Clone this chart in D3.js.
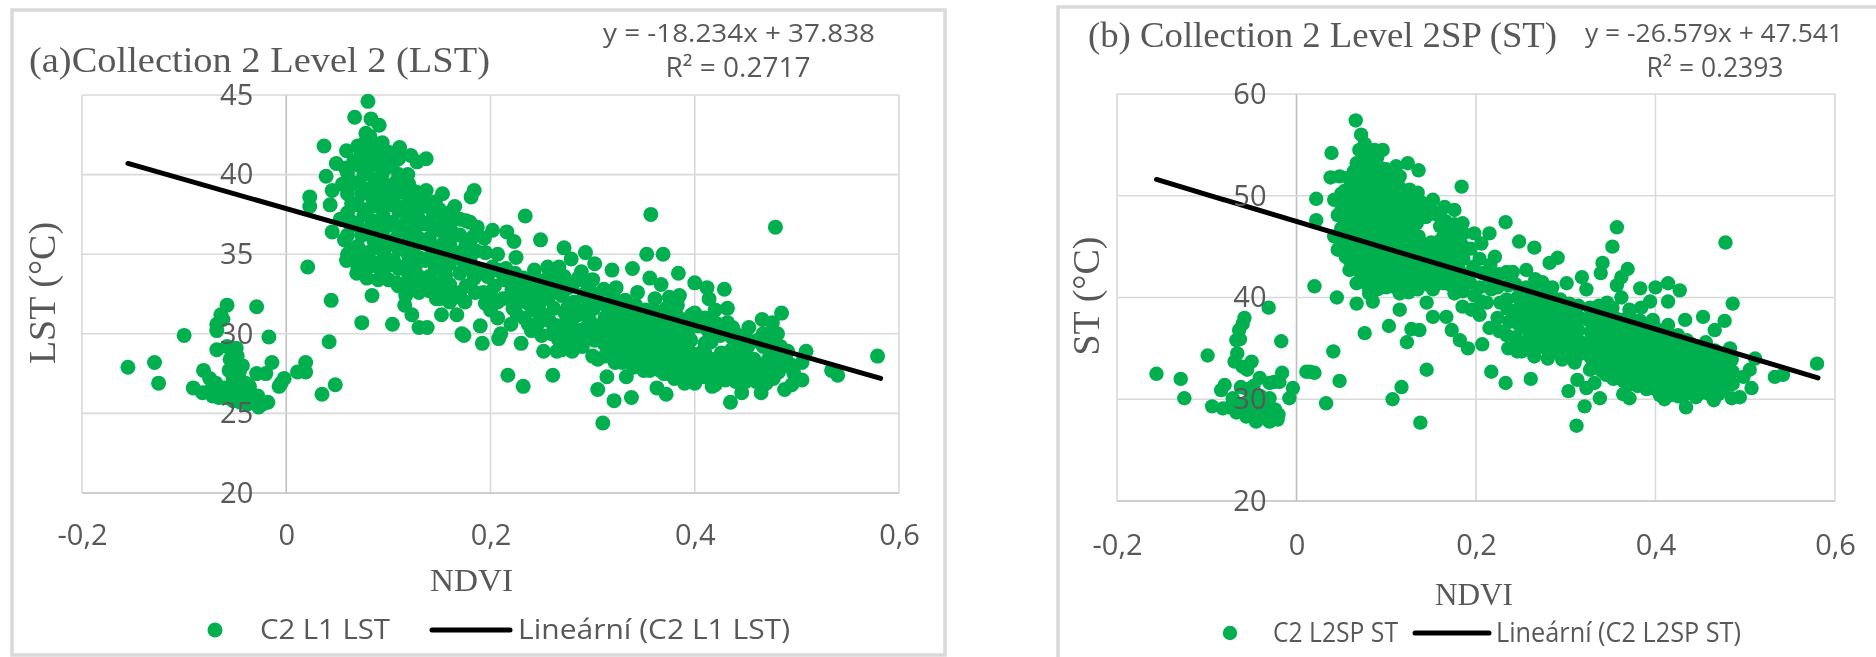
<!DOCTYPE html>
<html>
<head>
<meta charset="utf-8">
<script src="https://cdn.jsdelivr.net/npm/d3@7/dist/d3.min.js"></script>
<style>
  html, body { margin: 0; padding: 0; background: #fff; }
  svg { display: block; }
</style>
</head>
<body>
<script>
// tick values
var xTicks = [-0.2, 0, 0.2, 0.4, 0.6];
var yTicksA = [20, 25, 30, 35, 40, 45];
var yTicksB = [20, 30, 40, 50, 60];

// trend line ends
var trendA = [[-0.155, 40.7], [0.582, 27.2]];
var trendB = [[-0.156, 51.6], [0.581, 32.1]];

// panel a, [NDVI, LST]
var lowA = [[-.155,27.9],[-.129,28.2],[-.125,26.9],[-.1,29.9],[-.068,30.2],[-.017,29.8],[-.014,28.2],[-.049,29.1],[-.068,29],[-.058,29.2],[.019,28.2],[.011,27.6],[.019,27.6],[-.002,27.2],[-.007,26.7],[-.005,26.9],[.048,26.8],[.035,26.2],[.042,29.5],[-.029,31.7],[-.058,31.8],[-.064,31.2],[-.068,30.6],[-.062,30.9],[-.081,27.7],[-.075,27.2],[-.069,26.9],[-.091,26.6],[-.082,26.3],[-.066,26],[-.043,28],[-.056,27.7],[-.05,27.9],[-.029,27.5],[-.02,27.5],[-.023,25.6],[-.027,25.4],[-.018,25.7],[-.058,26],[-.052,25.8],[-.045,25.7],[-.038,25.6],[-.032,25.8],[-.06,26.6],[-.053,26.5],[-.046,26.4],[-.04,26.2],[-.034,26.2],[-.028,26.1],[-.052,27.2],[-.045,27.1],[-.04,26.9],[-.036,26.7],[-.055,28.4],[-.048,28.6],[-.046,27.6],[-.075,26.4],[-.072,26.1]];
var blobA = [[.08,44.6],[.067,43.6],[.083,43.5],[.091,43.1],[.037,41.8],[.137,41],[.128,40.8],[.059,41.5],[.049,40.7],[.039,39.9],[.045,39],[.023,38.6],[.023,38],[.043,38.1],[.045,36.4],[.021,34.2],[.059,34.6],[.057,35.9],[.069,33.8],[.079,33.5],[.108,33.2],[.044,32.1],[.084,32.4],[.074,30.7],[.104,30.6],[.117,32.4],[.116,31.8],[.123,31.2],[.13,30.4],[.138,30.4],[.147,32.2],[.152,31.2],[.167,31.2],[.172,30],[.181,38.6],[.184,39],[.078,42.6],[.094,42],[.111,41.7],[.122,41.2],[.119,40],[.137,39],[.153,38.8],[.165,38],[.176,37.1],[.187,36.7],
[.053,37.2],[.055,39.4],[.058,40.4],[.063,35.3],[.065,37],[.064,38.2],[.066,39.5],[.066,40.8],[.073,34.8],[.074,36.2],[.076,37.5],[.074,38.8],[.076,40],[.073,41.2],[.077,42],[.085,34.5],[.086,35.8],[.084,37.1],[.085,38.4],[.087,39.7],[.084,41],[.087,41.9],[.095,33.7],[.096,35],[.094,36.3],[.095,37.4],[.097,38.7],[.094,40],[.096,41.1],[.105,34.6],[.106,35.9],[.104,37],[.105,38.3],[.107,39.5],[.104,40.6],[.115,34.2],[.116,35.4],[.114,36.8],[.116,38],[.114,39.1],[.125,33],[.126,34.1],[.124,35.4],[.126,36.6],[.124,37.7],[.127,38.9],[.135,33.4],[.136,34.6],[.134,35.8],[.136,36.9],[.134,38],[.145,33],[.146,34.1],[.144,35.3],[.146,36.5],[.144,37.6],[.146,38.3],[.155,32.6],[.156,33.7],[.154,34.9],[.156,36],[.154,37.1],[.165,32.3],[.166,35],[.164,36.3],[.175,32],[.176,33],[.174,34.5],[.176,35.6],[.185,32.6],[.184,33.5],[.186,35.2],[.183,36.1]];
var blobFillA = [[.06,35],[.06,36.2],[.06,37.6],[.06,38.8],[.06,40.1],[.07,34.2],[.07,35.5],[.07,36.8],[.07,38.1],[.07,39.4],[.07,40.6],[.07,41.8],[.08,34.2],[.08,35.1],[.08,36.5],[.08,37.8],[.08,39.1],[.08,40.4],[.08,41.6],[.082,42.4],[.09,33.4],[.09,34.2],[.09,35.4],[.09,36.7],[.09,38],[.09,39.2],[.09,40.6],[.09,41.6],[.1,33.4],[.1,34.3],[.1,35.6],[.1,36.8],[.1,38.1],[.1,39.3],[.1,40.5],[.1,41.4],[.11,33],[.11,34.1],[.11,35.3],[.11,36.5],[.11,37.7],[.11,38.9],[.11,40],[.11,41],[.12,32.8],[.12,33.6],[.12,34.8],[.12,36.1],[.12,37.2],[.12,38.4],[.12,39.4],[.13,32.6],[.13,33.6],[.13,34.8],[.13,36],[.13,37.2],[.13,38.4],[.14,32.7],[.14,33.6],[.14,34.8],[.14,36],[.14,37],[.14,38.2],[.15,32.2],[.15,33.2],[.15,34.4],[.15,35.5],[.15,36.6],[.15,37.8],[.16,32],[.16,33.1],[.16,34.4],[.16,35.6],[.16,36.8],[.16,37.6],[.17,32.6],[.17,33.8],[.17,35.1],[.17,36.2],[.17,37.2],[.18,33],[.18,34.7],[.18,35.8],[.18,37]];
var bandA = [[.19,30.5],[.192,29.4],[.174,29.9],[.208,29.7],[.193,32.6],[.194,34],[.195,35.1],[.202,36.5],[.216,36.4],[.223,35.8],[.194,36],[.207,35],[.225,34.8],[.182,34],[.243,34],[.256,34.2],[.267,34.2],[.289,33.9],[.2,31.5],[.204,33],[.202,34.2],[.21,30],[.212,32.2],[.213,33.4],[.215,34.1],[.22,30.6],[.222,31.6],[.221,32.8],[.224,33.8],[.23,29.4],[.233,31],[.231,32.3],[.232,33.5],[.24,30.2],[.242,31.5],[.241,32.5],[.243,33.1],[.252,28.9],[.25,29.9],[.251,31.2],[.253,32.2],[.25,33.3],[.265,28.9],[.26,30],[.262,31.6],[.261,32.9],[.28,28.9],[.27,29],[.271,30.3],[.273,31.3],[.27,32.4],[.272,33.6],[.272,35.4],[.283,30.3],[.28,31],[.282,32],[.28,33],[.279,34.7],[.29,29.2],[.292,30.3],[.29,31.4],[.292,32.5],[.29,33.4],[.293,35.1],[.302,34.4],[.3,28.6],[.302,29.6],[.3,30.6],[.301,31.6],[.303,32.5],[.3,33.4],[.234,37.4],[.249,35.9],[.217,27.4],[.232,26.7],[.261,27.4],
[.195,31.9],[.2,32.6],[.197,33.6],[.207,31],[.207,32],[.207,34],[.218,32.3],[.218,33.3],[.226,31.2],[.228,32],[.228,33.1],[.237,30.6],[.237,31.9],[.237,33],[.247,30.7],[.247,31.7],[.248,32.9],[.258,30.8],[.257,32.3],[.257,33.6],[.266,30.5],[.266,29.7],[.267,33.4],[.277,29.6],[.277,30.7],[.276,32.9],[.276,31.7],[.286,29.7],[.286,31.2],[.286,33.5],[.296,31],[.296,32],[.296,33],[.296,29.9]];
var massA = [[.31,24.4],[.305,26.5],[.314,27.3],[.333,27.3],[.321,25.8],[.338,26],[.305,28.4],[.312,28.6],[.311,29.4],[.309,30.2],[.312,31],[.31,31.9],[.311,32.8],[.319,34],[.322,28.2],[.32,29],[.323,29.9],[.32,30.7],[.322,31.6],[.32,32.5],[.323,32.9],[.329,28.2],[.332,28.9],[.33,29.7],[.333,30.5],[.33,31.3],[.332,32.1],[.339,34.1],[.34,27.9],[.342,28.6],[.34,29.4],[.343,30.2],[.34,31],[.342,31.8],[.344,32.6],[.35,27.7],[.352,28.4],[.35,29.2],[.353,30],[.35,30.8],[.352,31.5],[.353,35],[.357,37.5],[.369,35],[.356,33.5],[.367,33.1],[.356,27.7],[.363,26.6],[.372,26.2],[.362,28.2],[.36,29],[.363,29.8],[.36,30.6],[.362,31.4],[.361,32.2],[.37,27.5],[.372,28.4],[.37,29.2],[.373,30],[.37,30.8],[.372,31.6],[.375,32.3],[.384,33.8],[.385,32.4],[.383,31.8],[.38,27.2],[.382,28],[.38,28.8],[.383,29.6],[.38,30.4],[.382,31.2],[.39,26.9],[.393,27.6],[.39,28.5],[.393,29.3],[.39,30.1],[.392,30.9],[.397,31.2],[.4,33.2],[.412,32.9],[.414,32.2],[.4,26.9],[.403,27.7],[.4,28.4],[.41,29.4],[.403,30.5],[.4,31.3],[.417,26.7],[.41,27.3],[.413,28.1],[.41,28.8],[.413,30.2],[.41,31],[.42,26.8],[.423,27.6],[.42,28.3],[.425,29.9],[.42,30.7],[.42,31.5],[.429,32.8],[.432,31.6],[.432,30.7],[.435,25.7],[.43,27.1],[.433,27.9],[.43,28.6],[.436,29.8],[.437,30.4],[.446,26.3],[.44,27],[.443,27.8],[.44,28.4],[.443,29.2],[.44,30],[.453,30.4],[.45,27],[.453,27.7],[.45,28.3],[.452,29.2],[.449,29.9],[.465,26.3],[.46,27],[.463,27.7],[.458,28.4],[.462,29.6],[.466,30.9],[.476,30.7],[.485,31.3],[.47,26.9],[.473,27.7],[.472,28.4],[.474,29.2],[.472,29.9],[.488,26.5],[.482,27.6],[.48,28.4],[.484,29.2],[.481,30],[.495,26.8],[.493,28.1],[.491,28.9],[.505,27.1],[.505,28.2],[.509,28.9],[.534,27.7],[.54,27.4],[.579,28.6],[.479,36.7]];
var massFillA = [[.316,28.8],[.316,29.7],[.316,30.6],[.316,31.4],[.326,28.6],[.326,29.4],[.326,30.2],[.326,31],[.326,31.8],[.336,28.3],[.336,29.1],[.336,29.9],[.336,30.7],[.336,31.5],[.346,28.1],[.346,28.9],[.346,29.7],[.346,30.5],[.346,31.3],[.356,27.9],[.356,28.7],[.356,29.5],[.356,30.3],[.356,31.1],[.366,27.7],[.366,28.5],[.366,29.3],[.366,30.2],[.366,31],[.376,27.5],[.376,28.3],[.376,29.1],[.376,29.9],[.376,30.7],[.386,27.4],[.386,28.2],[.386,29],[.386,29.8],[.386,30.6],[.396,27.2],[.396,28],[.396,28.8],[.396,29.6],[.396,30.4],[.406,27.3],[.406,28],[.406,28.8],[.406,31],[.416,27.5],[.416,28.4],[.416,29.5],[.416,30.5],[.426,27.2],[.426,28],[.426,28.8],[.426,30.4],[.436,27.4],[.436,28.2],[.436,29],[.446,26.9],[.446,27.5],[.446,28.1],[.446,28.8],[.446,29.6],[.456,27.3],[.456,28],[.456,29.5],[.466,27.3],[.467,28],[.467,29.2],[.467,30],[.477,27.2],[.477,28],[.477,29.6],[.487,28],[.488,28.7],[.497,27.5]];

// panel b, [NDVI, ST]
var lowB = [[-.156,32.5],[-.129,32],[-.125,30.1],[-.099,34.3],[-.017,35.7],[.041,34.7],[.048,31.8],[.033,29.6],[.011,32.7],[.02,32.6],[.015,32.7],[-.004,31.1],[-.008,30.1],[-.016,32.6],[-.031,39],[-.058,38],[-.064,36.8],[-.06,37.4],[-.067,35.8],[-.063,35.9],[-.066,34.5],[-.069,33.7],[-.05,33.7],[-.055,32.9],[-.06,33.2],[-.041,32.1],[-.03,31.6],[-.019,31.7],[-.025,31.7],[-.08,31.4],[-.084,30.9],[-.094,29.3],[-.082,29.1],[-.071,30.1],[-.067,28.7],[-.056,28.3],[-.045,27.8],[-.03,27.8],[-.021,28],[-.02,28.5],[-.03,29],[-.041,29.1],[-.05,30],[-.055,31],[-.062,31.2],[-.048,31.3],[-.04,30.3],[-.03,30.1],[-.058,29.5],[-.064,29.5],[-.075,29.2],[-.05,29],[-.037,28.2],[-.024,29]];
var blobB = [[.066,57.4],[.072,56],[.039,54.2],[.038,51.8],[.022,49.7],[.022,47.6],[.02,41.1],[.045,40],[.067,39.4],[.085,39.6],[.103,37.2],[.076,36.5],[.115,38.8],[.124,53.2],[.136,52.5],[.184,50.9],[.096,54.5],[.111,52.9],[.115,51.9],[.135,50.3],[.152,49.6],[.176,48.6],[.185,47.3],[.067,53.2],[.048,51.9],[.042,49.6],[.046,48.1],[.042,46],[.046,44.7],[.059,42.7],[.067,41.4],[.081,40.4],[.115,40.4],[.152,40.8],[.163,41.4],[.145,39.5],[.152,38.1],[.167,38.1],[.173,36.8],[.185,39.1],[.176,40.4],[.123,35.6],[.137,36.8],[.128,36.9],[.107,30],[.117,31.2],[.145,32.9],[.138,27.7],
[.055,44],[.053,45.3],[.056,46.6],[.054,47.9],[.057,49.2],[.054,50.5],[.058,51.8],[.065,43.3],[.063,44.6],[.066,45.9],[.064,47.2],[.066,48.5],[.063,49.8],[.066,51.1],[.064,52.4],[.075,42.2],[.073,43.6],[.076,44.9],[.074,46.2],[.076,47.5],[.073,48.8],[.076,50.1],[.074,51.4],[.076,52.7],[.074,54],[.076,55.1],[.085,41.7],[.084,43],[.086,44.3],[.084,45.6],[.086,46.9],[.083,48.2],[.086,49.5],[.084,50.8],[.086,52.1],[.084,53.4],[.087,54.5],[.095,41],[.093,42.3],[.096,43.6],[.094,44.9],[.096,46.2],[.093,47.5],[.096,48.8],[.094,50.1],[.096,51.4],[.094,52.7],[.105,41.6],[.103,42.9],[.106,44.2],[.104,45.5],[.106,46.8],[.103,48.1],[.106,49.4],[.104,50.7],[.106,52],[.115,41.8],[.113,43.1],[.116,44.4],[.114,45.7],[.116,47],[.113,48.3],[.116,49.6],[.114,50.9],[.125,40.5],[.124,41.7],[.126,43],[.124,44.3],[.126,45.6],[.124,46.9],[.126,48.2],[.124,49.5],[.126,50.6],[.135,40.8],[.133,42.1],[.136,43.4],[.134,44.7],[.136,46],[.134,47.3],[.136,48.6],[.134,49.8],[.145,41.3],[.143,42.3],[.146,43.6],[.144,44.9],[.144,47.9],[.146,49],[.155,42.5],[.154,43.8],[.156,45],[.155,48.2],[.165,42.5],[.164,43.8],[.166,45.1],[.164,46.1],[.166,47.5],[.165,48.9],[.175,42],[.174,43.3],[.176,44.6],[.174,46],[.176,47.2],[.185,40.6],[.184,42.4],[.186,43.8],[.184,45.2],[.186,46.3]];
var blobFillB = [[.05,45.5],[.05,46.8],[.05,48.6],[.05,50.2],[.06,43.6],[.06,45],[.06,46.3],[.06,47.6],[.06,48.9],[.06,50.2],[.06,51.5],[.07,42.6],[.07,44],[.07,45.3],[.07,46.6],[.07,47.9],[.07,49.2],[.07,50.5],[.07,51.8],[.07,53],[.07,54.5],[.08,41.1],[.08,42.6],[.08,44],[.08,45.3],[.08,46.6],[.08,47.9],[.08,49.2],[.08,50.5],[.08,51.8],[.08,53],[.08,54.3],[.09,40.8],[.09,42.2],[.09,43.5],[.09,44.8],[.09,46.1],[.09,47.4],[.09,48.7],[.09,50],[.09,51.3],[.09,52.6],[.09,53.8],[.1,41],[.1,42.2],[.1,43.5],[.1,44.8],[.1,46.1],[.1,47.4],[.1,48.7],[.1,50],[.1,51.3],[.1,52.6],[.11,41],[.11,42.3],[.11,43.6],[.11,44.9],[.11,46.2],[.11,47.5],[.11,48.8],[.11,50.1],[.11,51.3],[.12,41],[.12,42.3],[.12,43.6],[.12,44.9],[.12,46.2],[.12,47.5],[.12,48.8],[.12,50.1],[.13,41.2],[.13,42.5],[.13,43.8],[.13,45.1],[.13,46.4],[.13,47.7],[.13,49],[.13,50.2],[.14,41.4],[.14,42.7],[.14,44],[.14,45.3],[.14,48.2],[.14,49.3],[.15,41.5],[.15,42.9],[.15,44.2],[.15,45.4],[.15,48.6],[.16,42],[.16,43.2],[.16,44.4],[.16,45.6],[.16,47],[.16,48.3],[.17,41.3],[.17,42.7],[.17,44],[.17,45.3],[.17,46.6],[.18,41.5],[.18,43],[.18,44.4],[.18,45.8],[.18,47]];
var bandB = [[.195,38.8],[.198,40.2],[.193,41.5],[.197,43],[.194,44.8],[.198,46.3],[.215,46.3],[.204,38.3],[.206,39.6],[.204,41],[.207,42.4],[.204,43.8],[.206,45.3],[.212,39.5],[.215,37],[.217,40.8],[.214,42],[.216,43.2],[.221,44],[.207,35.4],[.191,35],[.182,35.8],[.226,36.7],[.224,38],[.227,39.5],[.224,41],[.226,42.3],[.234,39.8],[.233,47.4],[.217,32.7],[.233,31.6],[.261,32],[.236,35],[.234,36.3],[.237,37.6],[.235,38.9],[.236,41.2],[.234,42.5],[.248,45.5],[.246,34.7],[.244,36.1],[.247,37.4],[.245,38.7],[.246,40],[.244,41.3],[.241,42.5],[.251,34.7],[.256,35.7],[.254,37],[.256,38.3],[.254,39.6],[.256,41],[.256,42.7],[.265,44.9],[.265,34.2],[.263,35.3],[.266,36.6],[.264,37.9],[.266,39.2],[.264,40.5],[.266,41.8],[.28,34],[.276,35.1],[.274,36.4],[.276,37.7],[.274,39],[.277,40.3],[.274,41.5],[.291,43.9],[.282,43.4],[.285,41],[.286,35.1],[.284,36.3],[.286,37.5],[.284,38.7],[.286,40],[.296,33.9],[.294,35],[.297,36.2],[.295,37.4],[.296,38.6],[.294,39.8],[.301,41.4],[.31,33.6],[.304,34.7],[.306,35.9],[.304,37],[.306,38.2],[.304,39.4],[.303,30.8],[.312,27.4],[.313,31.9],[.318,42],[.323,40.8],[.323,31.1],[.321,29.3],[.315,34.4],[.317,35.6],[.314,36.8],[.316,38],[.314,39.2],
[.25,35.5],[.26,36],[.26,37.3],[.26,38.6],[.26,39.9],[.27,35.7],[.27,37],[.27,38.3],[.27,39.6],[.28,35.7],[.28,37],[.28,38.2],[.28,39.4],[.29,34.6],[.29,35.7],[.29,36.9],[.29,38.1],[.29,39.3],[.3,34.3],[.3,35.4],[.3,36.6],[.3,37.8],[.3,39],[.31,35],[.31,36.2],[.31,37.4],[.31,38.6]];
var massB = [[.327,32.9],[.332,31.6],[.338,30.1],[.327,34.2],[.325,35.4],[.328,36.6],[.325,37.8],[.327,39],[.341,43.4],[.339,42.4],[.335,33.2],[.337,34.4],[.335,35.6],[.337,36.8],[.335,38],[.337,39.2],[.346,39.5],[.345,32.4],[.343,33.6],[.346,34.8],[.344,36],[.346,37.2],[.344,38.4],[.353,32],[.355,33.2],[.352,34.4],[.355,35.6],[.353,36.8],[.355,38],[.352,39],[.357,46.9],[.352,45],[.369,42.8],[.362,42],[.357,41.2],[.362,40],[.371,38.8],[.364,30.5],[.371,30.1],[.364,31.8],[.362,33],[.365,34.2],[.363,35.4],[.365,36.6],[.363,37.8],[.373,31.9],[.375,33],[.372,34.2],[.375,35.4],[.373,36.6],[.375,37.8],[.383,40.9],[.394,39.6],[.385,31.7],[.383,32.9],[.385,34.1],[.383,35.3],[.385,36.5],[.383,37.7],[.384,39],[.395,31.4],[.393,32.6],[.396,33.8],[.394,35],[.396,36.2],[.394,37.4],[.397,37.8],[.4,41],[.414,41.4],[.414,39.6],[.427,40.7],[.405,30.4],[.404,31.6],[.406,32.9],[.404,34.1],[.406,35.3],[.404,36.5],[.416,30.4],[.414,31.5],[.417,32.8],[.415,34],[.417,35.2],[.415,36.4],[.414,37.3],[.434,29.2],[.425,30.3],[.425,31.5],[.427,32.7],[.425,33.9],[.427,35.1],[.425,36.3],[.435,31],[.437,32.2],[.435,33.4],[.437,34.6],[.435,35.8],[.433,37.8],[.445,30.2],[.447,31.4],[.445,32.6],[.447,33.8],[.445,35],[.453,38.1],[.456,31],[.458,32.2],[.456,33.4],[.458,34.6],[.456,35.6],[.465,29.9],[.467,31.1],[.465,32.3],[.467,33.5],[.466,34.8],[.466,36.8],[.477,37.7],[.478,45.4],[.486,39.4],[.475,30.9],[.477,32.1],[.475,33.3],[.477,34.5],[.483,35],[.485,30.1],[.486,31.5],[.486,32.7],[.485,33.9],[.494,30.2],[.498,32.2],[.507,31.1],[.505,32.9],[.511,34],[.533,32.2],[.542,32.4],[.58,33.5]];
var massFillB = [[.33,33.4],[.33,34.8],[.33,36],[.33,37.2],[.34,32.8],[.34,34],[.34,35.2],[.34,36.4],[.34,37.6],[.35,32.6],[.35,33.9],[.35,35.1],[.35,36.3],[.35,37.5],[.36,32.4],[.36,33.6],[.36,34.8],[.36,36],[.36,37.2],[.37,31.4],[.37,32.5],[.37,33.7],[.37,34.9],[.37,36.1],[.37,37.3],[.38,31.3],[.38,32.4],[.38,33.6],[.38,34.8],[.38,36],[.38,37.2],[.39,31],[.39,32],[.39,33.3],[.39,34.5],[.39,35.7],[.39,36.9],[.4,31],[.4,32.2],[.4,33.4],[.4,34.6],[.4,35.8],[.4,37],[.41,30],[.41,31],[.41,32.3],[.41,33.5],[.41,34.7],[.41,35.9],[.42,30.9],[.42,32.2],[.42,33.4],[.42,34.6],[.42,35.8],[.43,30.2],[.43,31.4],[.43,32.6],[.43,33.8],[.43,35],[.44,30.6],[.44,31.8],[.44,33],[.44,34.2],[.44,35.4],[.45,30.6],[.45,31.8],[.45,33],[.45,34.2],[.46,30.5],[.46,31.7],[.46,32.9],[.46,34],[.47,30.5],[.47,31.7],[.47,32.9],[.47,34.1],[.48,31.4],[.48,32.6],[.48,33.8]];

var ptsA = lowA.concat(blobA, blobFillA, bandA, massA, massFillA);
var ptsB = lowB.concat(blobB, blobFillB, bandB, massB, massFillB);

var width = 1876;
var height = 657;
var green = "#00b050";
var gray = "#595959";
var serif = "'Liberation Serif', serif";
var sans = "'Open Sans', sans-serif";

var svg = d3.select("body").append("svg")
    .attr("width", width)
    .attr("height", height);

// picture is a slightly soft scan
var defs = svg.append("defs");
defs.append("filter").attr("id", "soft")
    .append("feGaussianBlur").attr("stdDeviation", 0.55);
var root = svg.append("g").attr("filter", "url(#soft)");

root.append("rect").attr("width", width).attr("height", height).attr("fill", "#fff");

function drawPanel(p) {
    var x = d3.scaleLinear().domain([-0.2, 0.6]).range(p.xRange);
    var y = d3.scaleLinear().domain(d3.extent(p.yTicks)).range(p.yRange);
    var g = root.append("g");

    // frame
    g.append("path").attr("d", p.frame)
        .attr("fill", "none").attr("stroke", "#d9d9d9").attr("stroke-width", 3.5);

    // gridlines
    g.selectAll(".vg").data(xTicks).enter().append("line")
        .attr("x1", function(d) { return x(d); }).attr("x2", function(d) { return x(d); })
        .attr("y1", p.yRange[1]).attr("y2", p.yRange[0])
        .attr("stroke", function(d) { return d === 0 ? "#bfbfbf" : "#d9d9d9"; })
        .attr("stroke-width", 1.6);
    g.selectAll(".hg").data(p.yTicks).enter().append("line")
        .attr("x1", p.xRange[0]).attr("x2", p.xRange[1])
        .attr("y1", function(d) { return y(d); }).attr("y2", function(d) { return y(d); })
        .attr("stroke", function(d) { return d === 20 ? "#bfbfbf" : "#d9d9d9"; })
        .attr("stroke-width", 1.6);

    // points
    g.selectAll(".pt").data(p.pts).enter().append("circle")
        .attr("cx", function(d) { return x(d[0]); })
        .attr("cy", function(d) { return y(d[1]); })
        .attr("r", p.r)
        .attr("fill", green);

    // trend
    g.append("line")
        .attr("x1", x(p.trend[0][0])).attr("y1", y(p.trend[0][1]))
        .attr("x2", x(p.trend[1][0])).attr("y2", y(p.trend[1][1]))
        .attr("stroke", "#000").attr("stroke-width", 5).attr("stroke-linecap", "round");

    // axes, tick labels sit on top of the points
    var ay = g.append("g").attr("transform", "translate(" + x(0) + ",0)")
        .call(d3.axisLeft(y).tickValues(p.yTicks).tickSize(0).tickPadding(p.yPad));
    var ax = g.append("g").attr("transform", "translate(0," + p.xLabelY + ")")
        .call(d3.axisBottom(x).tickValues(xTicks).tickSize(0).tickPadding(0)
            .tickFormat(function(d) { return String(d).replace(".", ","); }));
    [ax, ay].forEach(function(a) {
        a.select(".domain").remove();
        a.selectAll("text").attr("font-family", sans).attr("font-size", 29).attr("fill", gray);
    });
    ax.selectAll("text").attr("dy", 0).attr("y", 0);

    function label(t, px, py, font, size, anchor, len) {
        var el = g.append("text").attr("x", px).attr("y", py).text(t)
            .attr("font-family", font).attr("font-size", size)
            .attr("fill", gray).attr("text-anchor", anchor);
        if (len) el.attr("textLength", len).attr("lengthAdjust", "spacingAndGlyphs");
        return el;
    }
    label(p.title, p.titleX, p.titleY, serif, 35, "start", p.titleLen);
    label(p.eq, p.eqX, 42, sans, 26, "start", p.eqLen);
    label(p.r2, p.r2X, 77, sans, 27, "middle", p.r2Len);
    label("NDVI", p.ndviX, p.ndviY, serif, 32, "start", p.ndviLen);
    label(p.yName, p.yNameX, p.yNameY, serif, 38, "middle")
        .attr("transform", "rotate(-90 " + p.yNameX + " " + p.yNameY + ")");

    // legend
    g.append("circle").attr("cx", p.legDot).attr("cy", p.legY).attr("r", p.r).attr("fill", green);
    g.append("line").attr("x1", p.legLine[0]).attr("x2", p.legLine[1])
        .attr("y1", p.legY).attr("y2", p.legY)
        .attr("stroke", "#000").attr("stroke-width", 5).attr("stroke-linecap", "round");
    label(p.leg1, p.leg1X, p.legY + 9, sans, 28, "start", p.leg1Len);
    label(p.leg2, p.leg2X, p.legY + 9, sans, 28, "start", p.leg2Len);
}

drawPanel({
    xRange: [82, 899], yRange: [493, 95], yTicks: yTicksA, pts: ptsA, trend: trendA, r: 7.5,
    frame: "M12,655 V10 H945 V655 Z",
    yPad: 33, xLabelY: 545,
    title: "(a)Collection 2 Level 2 (LST)", titleX: 29, titleY: 72, titleLen: 461,
    eq: "y = -18.234x + 37.838", eqX: 603, eqLen: 272,
    r2: "R² = 0.2717", r2X: 738, r2Len: 145,
    ndviX: 430, ndviY: 591, ndviLen: 83,
    yName: "LST (°C)", yNameX: 55, yNameY: 293,
    legDot: 215, legY: 630, legLine: [432, 510],
    leg1: "C2 L1 LST", leg1X: 260, leg1Len: 130,
    leg2: "Lineární (C2 L1 LST)", leg2X: 518, leg2Len: 272
});

drawPanel({
    xRange: [1117, 1835], yRange: [501, 94], yTicks: yTicksB, pts: ptsB, trend: trendB, r: 7.2,
    frame: "M1058,660 V7 H1880",
    yPad: 30, xLabelY: 555,
    title: "(b) Collection 2 Level 2SP (ST)", titleX: 1088, titleY: 47, titleLen: 469,
    eq: "y = -26.579x + 47.541", eqX: 1585, eqLen: 258,
    r2: "R² = 0.2393", r2X: 1715, r2Len: 137,
    ndviX: 1435, ndviY: 605, ndviLen: 78,
    yName: "ST (°C)", yNameX: 1099, yNameY: 296,
    legDot: 1230, legY: 633, legLine: [1415, 1489],
    leg1: "C2 L2SP ST", leg1X: 1273, leg1Len: 125,
    leg2: "Lineární (C2 L2SP ST)", leg2X: 1496, leg2Len: 245
});
</script>
</body>
</html>
